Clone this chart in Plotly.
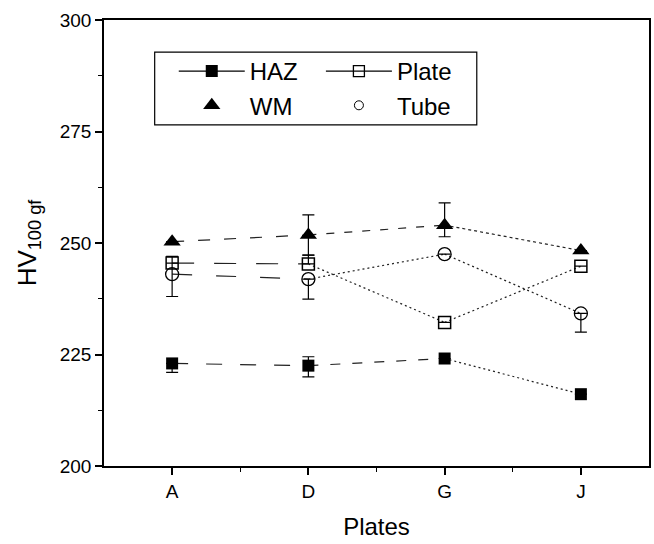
import plotly.graph_objects as go

# ---- data ----
plates = ["A", "D", "G", "J"]
xpos = [1, 2, 3, 4]

haz = [223, 222.5, 224.1, 216.1]
wm = [250.3, 251.8, 254.0, 248.3]
plate = [245.5, 245.3, 232.2, 244.8]
tube = [243.0, 241.9, 247.5, 234.2]

haz_err_plus = [0, 2.0, 0, 0]
haz_err_minus = [2.0, 2.5, 0, 0]
wm_err_plus = [0, 4.5, 5.0, 0]
wm_err_minus = [0, 4.5, 2.6, 0]
plate_err_plus = [0, 2.0, 0, 0]
plate_err_minus = [0, 0, 0, 0]
tube_err_plus = [4.0, 0, 0, 0]
tube_err_minus = [5.0, 4.5, 0, 4.2]

series_names = ["HAZ", "WM", "Plate", "Tube"]

FONT = "Liberation Sans, Arial, sans-serif"
LINE_COL = "#222222"

fig = go.Figure()

# segment dash patterns (per series, per segment A-D, D-G, G-J)
dash_styles = {
    "HAZ": ["16px,18px", "10px,12px", "2px,3px"],
    "WM": ["12px,14px", "8px,10px", "3px,3px"],
    "Plate": ["22px,20px", "2px,3px", "2px,3px"],
    "Tube": ["20px,24px", "2px,3px", "2px,3px"],
}
series_vals = {"HAZ": haz, "WM": wm, "Plate": plate, "Tube": tube}

for name in series_names:
    vals = series_vals[name]
    for i in range(len(xpos) - 1):
        fig.add_trace(go.Scatter(
            x=xpos[i:i + 2], y=vals[i:i + 2], mode="lines",
            line=dict(color=LINE_COL, width=1.2, dash=dash_styles[name][i]),
            showlegend=False, hoverinfo="skip"))

marker_specs = {
    "HAZ": dict(symbol="square", size=12, color="black"),
    "WM": dict(symbol="triangle-up", size=15, color="black"),
    "Plate": dict(symbol="square-open", size=12, color="black", line=dict(width=1.5)),
    "Tube": dict(symbol="circle-open", size=13, color="black", line=dict(width=1.3)),
}
errs = {
    "HAZ": (haz_err_plus, haz_err_minus),
    "WM": (wm_err_plus, wm_err_minus),
    "Plate": (plate_err_plus, plate_err_minus),
    "Tube": (tube_err_plus, tube_err_minus),
}

for name in series_names:
    ep, em = errs[name]
    fig.add_trace(go.Scatter(
        x=xpos, y=series_vals[name], mode="markers",
        marker=marker_specs[name],
        error_y=dict(type="data", array=ep, arrayminus=em, symmetric=False,
                     color="black", thickness=1.2, width=6),
        showlegend=False, name=name))

# legend entries
legend_specs = [
    ("HAZ", "lines+markers", dict(symbol="square", size=12, color="black"), "legend"),
    ("WM", "markers", dict(symbol="triangle-up", size=15, color="black"), "legend"),
    ("Plate", "lines+markers", dict(symbol="square-open", size=11, color="black", line=dict(width=1.3)), "legend2"),
    ("Tube", "markers", dict(symbol="circle-open", size=9, color="black", line=dict(width=1)), "legend2"),
]
for name, mode, mk, lg in legend_specs:
    fig.add_trace(go.Scatter(
        x=[None], y=[None], mode=mode, name=name, marker=mk,
        line=dict(color="black", width=1.2), legend=lg, showlegend=True))

legend_common = dict(
    font=dict(family=FONT, size=24, color="black"),
    bgcolor="rgba(0,0,0,0)", borderwidth=0, itemwidth=66,
    orientation="v", yanchor="top", xanchor="left", tracegroupgap=0,
)

fig.update_layout(
    width=654, height=544,
    margin=dict(l=104, r=3, t=20, b=78),
    paper_bgcolor="white", plot_bgcolor="white",
    font=dict(family=FONT, color="black"),
    legend=dict(x=0.128, y=0.935, **legend_common),
    legend2=dict(x=0.398, y=0.935, **legend_common),
    shapes=[dict(type="rect", xref="paper", yref="paper",
                 x0=0.093, x1=0.684, y0=0.765, y1=0.928,
                 line=dict(color="black", width=1.2), fillcolor="rgba(0,0,0,0)")],
)

fig.update_xaxes(
    range=[0.5, 4.5], tickmode="array", tickvals=xpos, ticktext=plates,
    showline=True, linecolor="black", linewidth=1.5, mirror=True,
    ticks="outside", ticklen=7, tickwidth=1.5, tickcolor="black",
    minor=dict(tickmode="array", tickvals=[1.5, 2.5, 3.5], ticks="outside",
               ticklen=4, tickwidth=1.2, tickcolor="black"),
    showgrid=False, zeroline=False,
    tickfont=dict(family=FONT, size=19, color="black"),
    title=dict(text="Plates", font=dict(family=FONT, size=24, color="black"), standoff=18),
)
fig.update_yaxes(
    range=[200, 300], tickmode="array", tickvals=[200, 225, 250, 275, 300],
    showline=True, linecolor="black", linewidth=1.5, mirror=True,
    ticks="outside", ticklen=7, tickwidth=1.5, tickcolor="black",
    minor=dict(tickmode="array", tickvals=[212.5, 237.5, 262.5, 287.5], ticks="outside",
               ticklen=4, tickwidth=1.2, tickcolor="black"),
    showgrid=False, zeroline=False,
    tickfont=dict(family=FONT, size=19, color="black"),
    title=dict(text="HV<sub>100 gf</sub>", font=dict(family=FONT, size=26, color="black"), standoff=16),
)

fig.write_html("out.html")
